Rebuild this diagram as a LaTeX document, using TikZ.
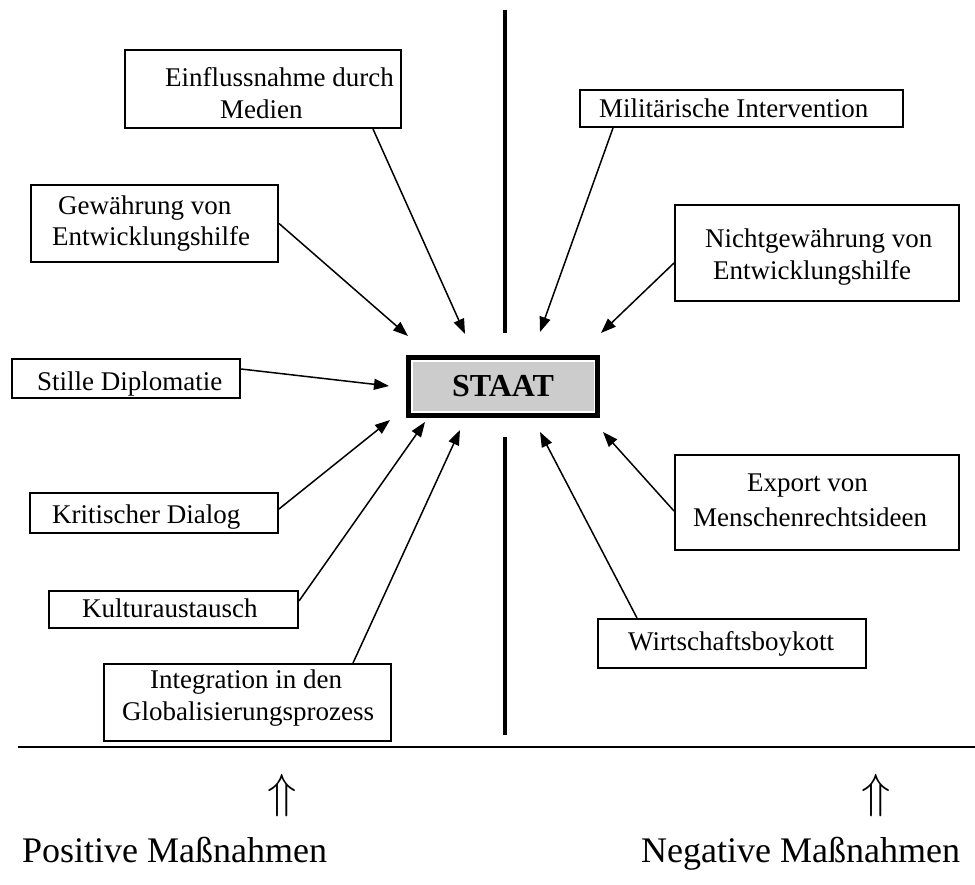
\RequirePackage{fix-cm}
\documentclass[tikz,border=0pt]{standalone}
\usepackage{fontspec}
\setmainfont{Liberation Serif}
\usetikzlibrary{arrows.meta,calc}

\begin{document}
\begin{tikzpicture}[x=1pt,y=-1pt,
  frame/.style={draw, line width=2pt, rectangle, inner sep=0pt, anchor=north west},
  txt/.style={anchor=base west, inner sep=0pt, font=\fontsize{27}{31}\selectfont},
  bigtxt/.style={anchor=base west, inner sep=0pt, font=\fontsize{36}{40}\selectfont},
  updbl/.style={inner sep=0pt, font=\fontsize{48}{52}\selectfont},
  conn/.style={line width=1.5pt, -{Triangle[length=15pt,width=11pt]}},
  divider/.style={line width=4pt},
  staatbox/.style={draw, line width=5pt, fill=white, inner sep=0pt,
    minimum width=189pt, minimum height=58pt,
    font=\fontsize{32}{36}\selectfont\bfseries,
    path picture={\fill[staatgray]
      ([xshift=4.5pt,yshift=-4.5pt]path picture bounding box.north west)
      rectangle ([xshift=-3.5pt,yshift=4.5pt]path picture bounding box.south east);}}
]
\definecolor{staatgray}{HTML}{CCCCCC}
\useasboundingbox (0,0) rectangle (975,885);

% central divider
\draw[divider] (505,10) -- (505,333);
\draw[divider] (505,437) -- (505,735);

% central node
\node[staatbox] (staat) at (503,386.5) {STAAT};

% boxes, positive side
\node[frame, minimum width=276pt, minimum height=78pt] (einfl) at (124,49) {};
\node[txt] (einflA) at (165,87) {Einflussnahme durch};
\node[txt] (einflB) at (220,119) {Medien};

\node[frame, minimum width=247pt, minimum height=77pt] (gew) at (30,184) {};
\node[txt] (gewA) at (58,215) {Gewährung von};
\node[txt] (gewB) at (52,246) {Entwicklungshilfe};

\node[frame, minimum width=228pt, minimum height=39pt] (stille) at (11,358) {};
\node[txt] (stilleA) at (37,391) {Stille Diplomatie};

\node[frame, minimum width=248pt, minimum height=40pt] (krit) at (29,492) {};
\node[txt] (kritA) at (52,523) {Kritischer Dialog};

\node[frame, minimum width=249pt, minimum height=37pt] (kult) at (48,590) {};
\node[txt] (kultA) at (82,617) {Kulturaustausch};

\node[frame, minimum width=287pt, minimum height=77pt] (integ) at (103,663) {};
\node[txt] (integA) at (150,688) {Integration in den};
\node[txt] (integB) at (122,720) {Globalisierungsprozess};

% boxes, negative side
\node[frame, minimum width=323pt, minimum height=37pt] (mil) at (579,89) {};
\node[txt] (milA) at (599,118) {Militärische Intervention};

\node[frame, minimum width=284pt, minimum height=96pt] (nicht) at (674,204) {};
\node[txt] (nichtA) at (705,248) {Nichtgewährung von};
\node[txt] (nichtB) at (713,280) {Entwicklungshilfe};

\node[frame, minimum width=284pt, minimum height=95pt] (export) at (674,454) {};
\node[txt] (exportA) at (747,491) {Export von};
\node[txt] (exportB) at (693,526) {Menschenrechtsideen};

\node[frame, minimum width=268pt, minimum height=49pt] (wirt) at (597,618) {};
\node[txt] (wirtA) at (628,650) {Wirtschaftsboykott};

% arrow tips around the central node
\coordinate (tEinfl)  at (465,334);
\coordinate (tGew)    at (408,336);
\coordinate (tMil)    at (540,332);
\coordinate (tNicht)  at (601,333);
\coordinate (tStille) at (389,386);
\coordinate (tKrit)   at (390,420);
\coordinate (tKult)   at (425,422);
\coordinate (tInteg)  at (460,430);
\coordinate (tWirt)   at (540,432);
\coordinate (tExport) at (603,432);

% connectors
\draw[conn] ([xshift=110pt]einfl.south) -- (tEinfl);
\draw[conn] (gew.east) -- (tGew);
\draw[conn] ([xshift=-128.5pt]mil.south) -- (tMil);
\draw[conn] ([yshift=-10pt]nicht.west) -- (tNicht);
\draw[conn] ([yshift=9.5pt]stille.east) -- (tStille);
\draw[conn] ([yshift=4pt]krit.east) -- (tKrit);
\draw[conn] ([yshift=8.5pt]kult.east) -- (tKult);
\draw[conn] ([xshift=105.5pt]integ.north) -- (tInteg);
\draw[conn] ([xshift=-95pt]wirt.north) -- (tWirt);
\draw[conn] ([yshift=-8.5pt]export.west) -- (tExport);

% baseline rule
\coordinate (ruleL) at (18,747);
\coordinate (ruleR) at (975,747);
\draw[line width=1.2pt] (ruleL) -- (ruleR);

% captions
\node[updbl] (upL) at (282,795) {$\Uparrow$};
\node[updbl] (upR) at (876,795) {$\Uparrow$};
\node[bigtxt] (posL) at (22,862) {Positive Maßnahmen};
\node[bigtxt] (negR) at (641,862) {Negative Maßnahmen};
\end{tikzpicture}
\end{document}
